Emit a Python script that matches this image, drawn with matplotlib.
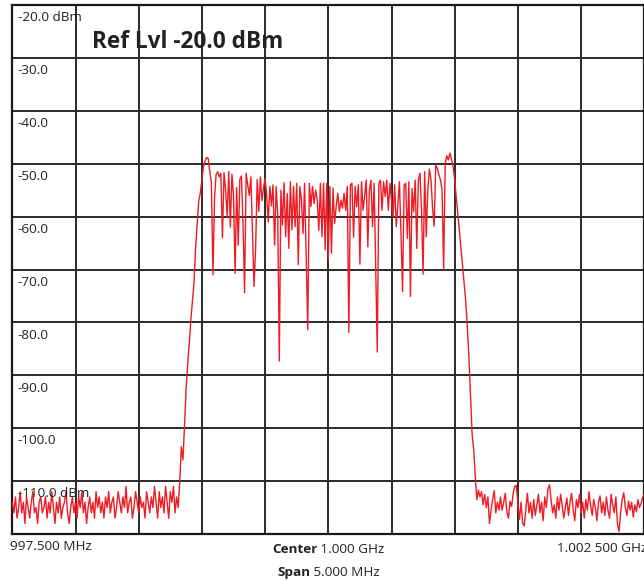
import numpy as np
import matplotlib
matplotlib.use("Agg")
import matplotlib.pyplot as plt

plt.rcParams['font.family'] = ['Open Sans', 'DejaVu Sans']

# ---- data (dBm) ----
noise_left = [
    -114, -116, -113, -117, -115, -112, -116, -114, -118, -113, -115, -117, -114, -112, -116, -115, -118, -114, -113, -116,
    -115, -113, -117, -114, -116, -112, -115, -118, -114, -116, -113, -117, -115, -114, -112, -116, -118, -115, -113, -116,
    -114, -117, -113, -115, -112, -116, -114, -118, -115, -113, -116, -114, -117, -112, -115, -113, -116, -114, -117, -113,
    -115, -112, -116, -114, -113, -117, -115, -112, -114, -116, -113, -115, -111, -116, -114, -113, -117, -115, -112, -114,
    -116, -113, -115, -114, -117, -112, -114, -116, -113, -115, -111, -114, -117, -112, -115, -113, -116, -111, -114, -117,
    -112, -114, -111, -116, -113, -115,
]
rise_edge = [-110, -103.5, -106, -99.5, -92.5, -88, -84, -79.5, -76, -72.5, -66, -61.5, -57, -55.5, -53, -50.5]
band = [
    -49.5, -48.8, -49.0, -51.5, -53.5, -71.0, -56.5, -52.0, -51.5, -52.5,
    -51.8, -64.0, -51.7, -55.0, -60.0, -51.5, -62.0, -52.0, -56.0, -70.7,
    -54.5, -65.4, -53.0, -52.3, -61.0, -74.4, -51.8, -54.0, -56.0, -52.5,
    -63.0, -73.2, -66.0, -53.0, -59.0, -52.5, -57.0, -54.5, -52.8, -56.0,
    -61.0, -54.3, -58.0, -54.0, -65.4, -54.3, -60.0, -87.3, -55.0, -61.6,
    -53.6, -63.8, -55.6, -66.0, -53.4, -62.5, -54.3, -61.9, -53.7, -69.1,
    -54.3, -56.9, -63.2, -53.7, -67.3, -81.4, -53.7, -58.1, -54.3, -57.5,
    -55.0, -56.9, -62.6, -53.7, -63.8, -53.7, -66.3, -53.7, -68.2, -54.3,
    -66.9, -54.6, -61.3, -58.1, -55.6, -59.1, -56.9, -58.4, -55.6, -58.8,
    -54.3, -81.9, -54.0, -53.7, -63.9, -54.3, -58.1, -54.0, -69.0, -53.4,
    -58.8, -56.2, -53.1, -65.7, -55.0, -53.1, -61.9, -53.7, -69.5, -85.6,
    -53.7, -53.1, -58.8, -53.4, -56.2, -53.1, -58.8, -53.7, -56.9, -60.0,
    -54.0, -61.9, -57.8, -53.4, -63.2, -74.2, -54.0, -53.7, -64.1, -53.4,
    -75.1, -54.7, -59.1, -53.1, -66.0, -53.1, -51.8, -58.8, -70.9, -51.5,
    -63.8, -55.0, -51.0, -53.1, -58.4, -61.8, -50.2, -50.9, -52.1, -53.1,
    -55.0, -70.1, -49.9, -48.5, -49.3, -48.0, -49.3, -50.6, -53.0,
]
fall_edge = [-56.5, -59.5, -62.8, -66.0, -69.5, -72.6, -76.0, -81.0, -86.5, -94.0, -101.0, -104.0, -109.0]
noise_right = [
    -113.5, -111.7, -113, -112, -114.5, -112.5, -115, -113, -118, -115.5, -113.5, -111.8, -116, -114, -115.5, -113, -115.5, -114, -112.3, -115.8,
    -117, -113.8, -114.8, -112.3, -111, -110.8, -114.2, -117.2, -114, -118, -118.5, -115.5, -112.3, -116, -114, -117, -113.5, -116.5, -114.5, -112.5,
    -116, -114, -117.5, -113, -115, -111.5, -110.7, -113.5, -116, -114.5, -117, -113, -115.5, -112.5, -114.5, -117, -115, -113.2, -116.5, -114,
    -112.3, -115.5, -117.5, -113.5, -115, -112.5, -116, -114, -117, -113.5, -115.5, -112, -114.5, -116.5, -113.5, -115, -117.5, -114, -112.8, -116,
    -114, -116.5, -113, -115.5, -117, -112.5, -114.5, -116, -113, -118, -119.5, -116, -113.5, -112.2, -115, -116.5, -113.8, -115.5, -114, -116.8,
    -114.5, -115.8, -113.5, -115, -114.2, -113, -112.5,
]

ref_level = -20.0
level_ticks = [-20, -30, -40, -50, -60, -70, -80, -90, -100, -110, -120]
level_labels = ["-20.0 dBm", "-30.0", "-40.0", "-50.0", "-60.0", "-70.0",
                "-80.0", "-90.0", "-100.0", "-110.0 dBm"]
f_start, f_stop = 997.5, 1002.5  # MHz
freq_ticks = [997.5, 998.0, 998.5, 999.0, 999.5, 1000.0, 1000.5, 1001.0, 1001.5, 1002.0, 1002.5]

levels = np.array(noise_left + rise_edge + band + fall_edge + noise_right, dtype=float)
freqs = np.linspace(f_start, f_stop, len(levels))

# ---- figure ----
fig = plt.figure(figsize=(6.44, 5.81), dpi=100)
W, H = 644, 581
ax = fig.add_axes([12.3 / W, 47 / H, 632 / W, 529 / H])
ax.set_xlim(f_start, f_stop)
ax.set_ylim(-120, ref_level)

ax.set_xticks(freq_ticks)
ax.set_yticks(level_ticks)
ax.tick_params(length=0, labelbottom=False, labelleft=False)
ax.grid(True, color='#2b2b2b', linewidth=1.4)
ax.set_axisbelow(True)
for s in ax.spines.values():
    s.set_color('#1a1a1a')
    s.set_linewidth(1.6)

ax.plot(freqs, levels, color='#ee1c25', linewidth=1.0, zorder=3)

# level labels inside the grid
for lv, lab in zip(level_ticks, level_labels):
    ax.annotate(lab, xy=(f_start, lv), xytext=(4, -4.5), textcoords='offset points',
                ha='left', va='top', fontsize=9.7, color='#222222', zorder=4)

fig.text(92 / W, 1 - 42 / H, "Ref Lvl -20.0 dBm",
         ha='left', va='center', fontsize=16.3, fontweight='bold', color='#222222')

# frequency labels
fig.text(10 / W, 1 - 546 / H, "997.500 MHz", ha='left', va='center', fontsize=9.7, color='#222222')
fig.text(557 / W, 1 - 549 / H, "1.002 500 GHz", ha='left', va='center', fontsize=9.7, color='#222222')

t1 = fig.text(272 / W, 1 - 549.5 / H, "Center", ha='left', va='center', fontsize=9.7,
              fontweight='bold', color='#222222')
fig.canvas.draw()
ax.annotate(" 1.000 GHz", xy=(1, 0.5), xycoords=t1, ha='left', va='center',
            fontsize=9.7, color='#222222', annotation_clip=False)
t2 = fig.text(277 / W, 1 - 572.5 / H, "Span", ha='left', va='center', fontsize=9.7,
              fontweight='bold', color='#222222')
ax.annotate(" 5.000 MHz", xy=(1, 0.5), xycoords=t2, ha='left', va='center',
            fontsize=9.7, color='#222222', annotation_clip=False)

fig.savefig("out.png", dpi=100, facecolor='white')
